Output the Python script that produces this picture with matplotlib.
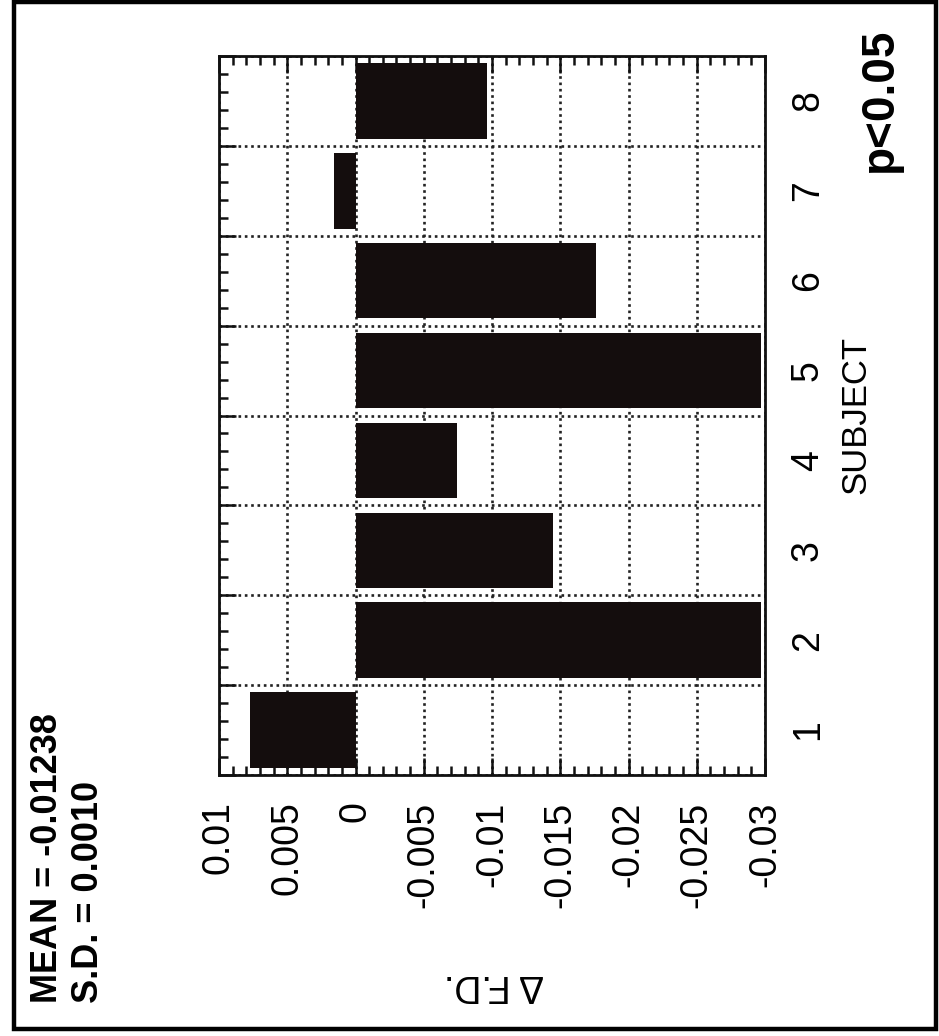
import numpy as np
import matplotlib
matplotlib.use("Agg")
import matplotlib.pyplot as plt
from matplotlib.patches import Rectangle
from matplotlib.ticker import FixedLocator, MultipleLocator

plt.rcParams['font.family'] = ['Liberation Sans', 'DejaVu Sans']

subjects = [1, 2, 3, 4, 5, 6, 7, 8]
delta_fd = [0.0077, -0.0297, -0.0145, -0.0074, -0.0297, -0.0176, 0.0016, -0.0096]
value_ticks = [0.01, 0.005, 0, -0.005, -0.01, -0.015, -0.02, -0.025, -0.03]
value_labels = ['0.01', '0.005', '0', '-0.005', '-0.01', '-0.015', '-0.02', '-0.025', '-0.03']
subject_labels = ['1', '2', '3', '4', '5', '6', '7', '8']
mean_text = 'MEAN = -0.01238'
sd_text = 'S.D. = 0.0010'
p_text = 'p<0.05'

W, H = 939, 1036
fig = plt.figure(figsize=(W/100, H/100), dpi=100)
# axes box in pixels: x 219..765, y 56..775 (from top)
ax = fig.add_axes([219/W, 1 - 775/H, 546/W, 719/H])

bar_color = '#140d0d'
ax.barh(subjects, delta_fd, height=0.84, color=bar_color, zorder=2)

ax.set_xlim(0.01, -0.03)
ax.set_ylim(0.5, 8.5)

# value axis (drawn horizontally, labels rotated like the reference)
ax.xaxis.set_major_locator(FixedLocator(value_ticks))
ax.set_xticklabels(value_labels)
ax.xaxis.set_minor_locator(MultipleLocator(0.001))

# subject axis: ticks and grid at the bar boundaries
bounds = np.arange(0.5, len(subjects) + 1, 1.0)
ax.yaxis.set_major_locator(FixedLocator(bounds))
ax.yaxis.set_minor_locator(FixedLocator(np.arange(0.5, len(subjects) + 0.51, 0.2)))

ax.tick_params(which='both', direction='in', top=True, right=True, width=1.8, color='#111')
ax.tick_params(which='major', length=12)
ax.tick_params(which='minor', length=6.5)
ax.tick_params(axis='y', labelleft=False)
ax.tick_params(axis='x', labelsize=27, labelrotation=90, pad=19)

ax.grid(True, which='major', linestyle=(0, (1, 1.4)), linewidth=1.9, color='#222', zorder=1)
ax.set_axisbelow(True)
for s in ax.spines.values():
    s.set_linewidth(2.0)
    s.set_color('#111')

# subject labels at bar centres on the right side
tw = ax.twinx()
tw.set_ylim(0.5, 8.5)
tw.set_yticks(subjects)
tw.set_yticklabels(subject_labels)
tw.tick_params(axis='y', length=0, pad=18, labelsize=27, labelrotation=90)
for lbl in tw.get_yticklabels():
    lbl.set_va('center')
for s in tw.spines.values():
    s.set_visible(False)

tw.set_ylabel('SUBJECT', fontsize=25)
lab = tw.yaxis.label
lab.set_rotation(90)
lab.set_rotation_mode('default')
lab.set_ha('center')
lab.set_va('center')
tw.yaxis.set_label_coords((856 - 219)/546, 0.5)

ax.set_xlabel('\u0394 F.D.', fontsize=27)
xl = ax.xaxis.label
xl.set_rotation(180)
xl.set_ha('center')
xl.set_va('center')
ax.xaxis.set_label_coords((494 - 219)/546, (H - 985 - 261)/719)

# annotations
fig.text(48/W, 1 - 1003/H, mean_text, rotation=90, ha='center', va='bottom',
         fontsize=26, fontweight='bold')
fig.text(88/W, 1 - 1003/H, sd_text, rotation=90, ha='center', va='bottom',
         fontsize=26, fontweight='bold')
fig.text(880/W, 1 - 100/H, p_text, rotation=90, ha='center', va='center',
         fontsize=33, fontweight='bold')

# outer frame
fig.add_artist(Rectangle((14/W, 1 - 1029/H), (936 - 14)/W, (1029 - 2)/H,
                         fill=False, linewidth=3.2, edgecolor='black',
                         transform=fig.transFigure))

fig.savefig('out.png', dpi=100)
